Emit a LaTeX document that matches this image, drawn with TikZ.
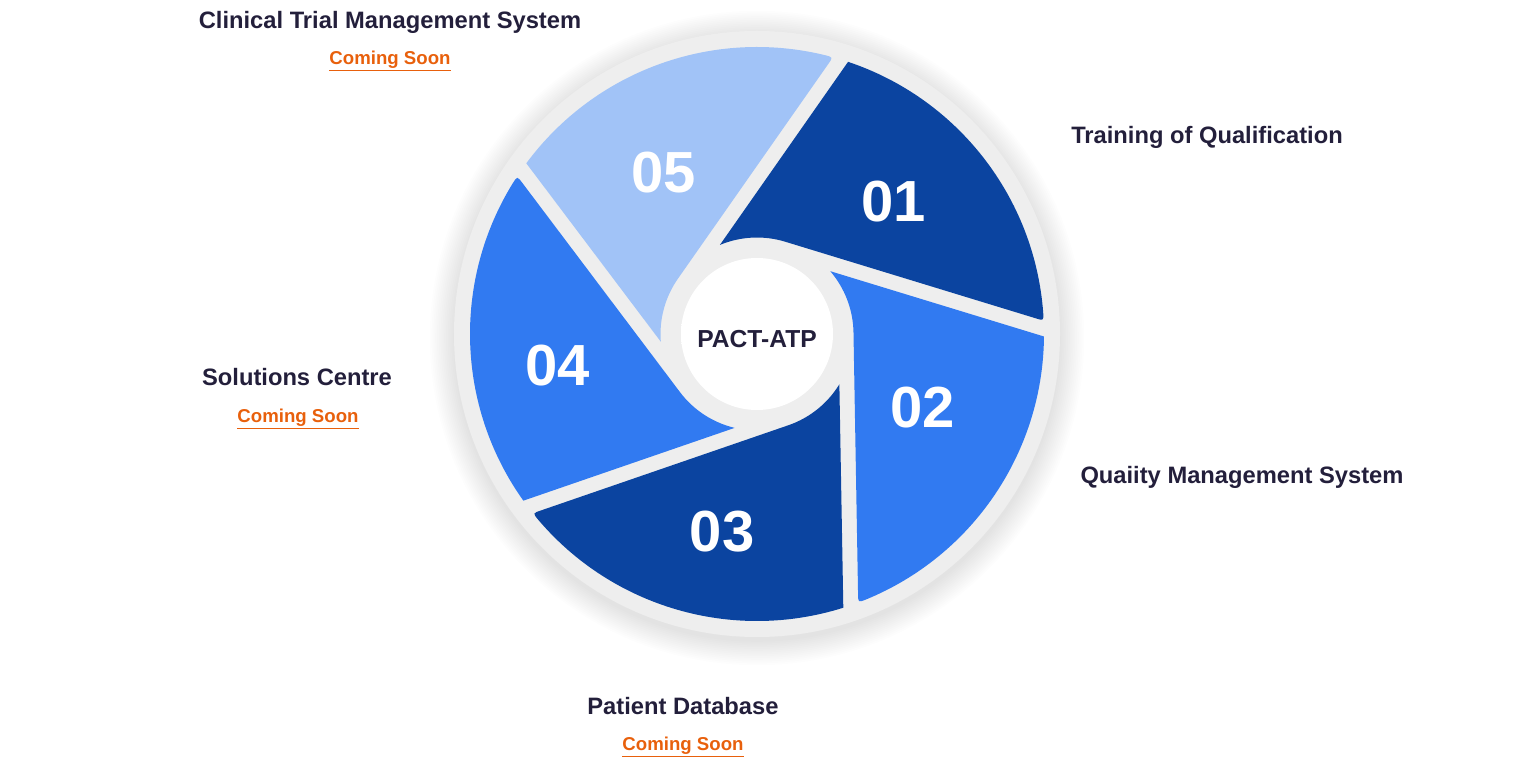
\documentclass[tikz,border=0pt]{standalone}
\usepackage{fontspec}
\setmainfont{Liberation Sans}
\usetikzlibrary{calc,positioning}
\definecolor{navyblade}{HTML}{0B44A0}
\definecolor{midblade}{HTML}{317AF1}
\definecolor{lightblade}{HTML}{A1C3F7}
\definecolor{ringgray}{HTML}{EEEEEE}
\definecolor{hubedge}{HTML}{D8D8D8}
\definecolor{titletext}{HTML}{231F3B}
\definecolor{soonorange}{HTML}{E8600C}
\pgfdeclareradialshading{hubshade}{\pgfpoint{0bp}{0bp}}{color(0bp)=(white); color(32bp)=(white); color(50bp)=(hubedge); color(70bp)=(hubedge)}

\begin{document}
\begin{tikzpicture}[x=0.2mm, y=0.2mm,
  title/.style={font=\fontsize{13.5}{16}\selectfont\bfseries, text=titletext, inner sep=0pt},
  soon/.style={font=\fontsize{10.6}{13}\selectfont\bfseries, text=soonorange, inner sep=0pt},
  num/.style={font=\fontsize{33}{36}\selectfont\bfseries, text=white, inner sep=0pt}]
\useasboundingbox (0,0) rectangle (1516,767);
\coordinate (c) at (757,433);

% soft shadow and gray disc
\foreach \s in {1,...,14}
  \fill[black, opacity=0.007] ($(c)+(0,-4)$) circle[radius=302+\s*1.8];
\fill[ringgray] (c) circle[radius=303];

% blades
\foreach \b/\col/\num/\na/\nr in {73/navyblade/01/44/190, 1/midblade/02/-24/181, -71/navyblade/03/-100/201, -143/midblade/04/-171/202, 145/lightblade/05/120/187} {
  \begin{scope}[shift={(c)}, rotate=\b]
    \fill[\col] (96.5,0) arc[start angle=0, end angle=39.6, radius=96.5]
      -- (-1.5:287) arc[start angle=-1.5, end angle=-68.75, radius=287]
      .. controls (96.5,-270.3) .. (96.5,-262) -- cycle;
  \end{scope}
  \node[num] (n\num) at ([shift={(\na:\nr)}]c) {\num};
}

% hub
\shade[shading=hubshade] (c) circle[radius=76];
\node[font=\fontsize{14}{16}\selectfont\bfseries, text=titletext] (hub) at ([yshift=-3]c) {PACT-ATP};

% labels
\node[title] (ctms) at (390,745) {Clinical Trial Management System};
\node[soon] (ctmssoon) at (390,706) {\underline{Coming Soon}};
\node[title] (toq) at (1207,630) {Training of Qualification};
\node[title] (qms) at (1242,290) {Quaiity Management System};
\node[title] (sc) at (297,390) {Solutions Centre};
\node[soon] (scsoon) at (298,348) {\underline{Coming Soon}};
\node[title] (pd) at (683,61) {Patient Database};
\node[soon] (pdsoon) at (683,20) {\underline{Coming Soon}};
\end{tikzpicture}
\end{document}
